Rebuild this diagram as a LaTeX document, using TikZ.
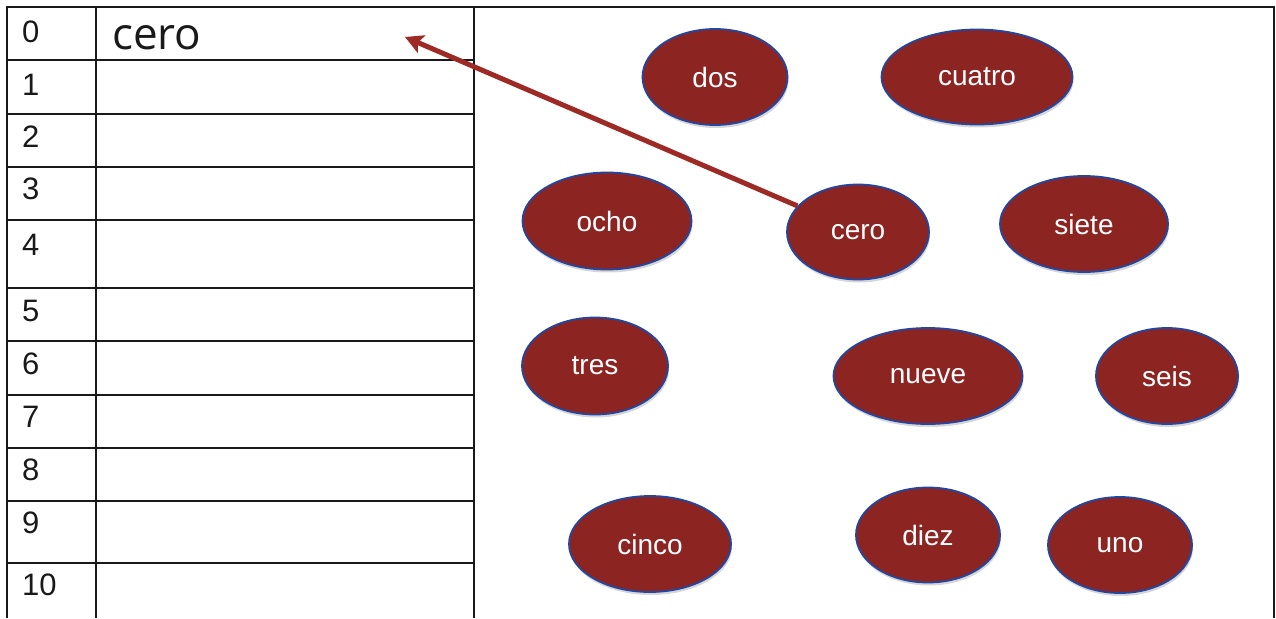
\documentclass[tikz,border=0pt]{standalone}
\usepackage{fontspec}
\setmainfont{Liberation Sans}
\newfontfamily\cellfont{Open Sans}
\usetikzlibrary{arrows.meta,shapes.geometric,shadows}
\definecolor{blobred}{RGB}{140,36,34}
\definecolor{blobedge}{RGB}{35,70,160}
\definecolor{arrowred}{RGB}{158,42,38}
\definecolor{ink}{RGB}{25,25,25}
\begin{document}
\begin{tikzpicture}[x=1pt,y=-1pt,
  rule/.style={line width=1.6pt, draw=ink},
  numlabel/.style={anchor=base west, inner sep=0pt, text=ink, font=\fontsize{31}{34}\selectfont},
  blob/.style={ellipse, fill=blobred, draw=blobedge, line width=1.8pt, text=white,
    inner sep=0pt, font=\fontsize{28}{32}\selectfont,
    drop shadow={shadow xshift=1pt, shadow yshift=-3pt, opacity=0.35, fill=black!45}},
  arrowline/.style={draw=arrowred, line width=5pt, -{Stealth[length=18pt,width=19pt,inset=4pt]}}]
\useasboundingbox (0,0) rectangle (1276,618);
\fill[white] (0,0) rectangle (1276,618);
% outer frame and table
\draw[rule] (7,618) -- (7,7) -- (1274,7) -- (1274,618);
\draw[rule] (474,7) -- (474,618);
\draw[rule] (96,7) -- (96,618);
\foreach \yy in {60,114,167,220,288,341,395,448,501,563}
  \draw[rule] (7,\yy) -- (474,\yy);
% row numbers
\node[numlabel] (n0) at (22,42) {0};
\node[numlabel] (n1) at (22,95) {1};
\node[numlabel] (n2) at (22,147) {2};
\node[numlabel] (n3) at (22,199) {3};
\node[numlabel] (n4) at (22,255) {4};
\node[numlabel] (n5) at (22,321) {5};
\node[numlabel] (n6) at (22,374) {6};
\node[numlabel] (n7) at (22,427) {7};
\node[numlabel] (n8) at (22,480) {8};
\node[numlabel] (n9) at (22,533) {9};
\node[numlabel] (n10) at (22,595) {10};
\node[anchor=base west, inner sep=0pt, text=ink, font=\cellfont\fontsize{44}{47}\selectfont] (cell0) at (112,50) {cero};
% ellipses
\node[blob, minimum width=145pt, minimum height=96pt] (dos) at (715,77) {dos};
\node[blob, minimum width=191pt, minimum height=95pt] (cuatro) at (977,77) {cuatro};
\node[blob, minimum width=169pt, minimum height=97pt] (ocho) at (607,221) {ocho};
\node[blob, minimum width=142pt, minimum height=95pt] (cero) at (858,232) {cero};
\node[blob, minimum width=168pt, minimum height=96pt] (siete) at (1084,224) {siete};
\node[blob, minimum width=146pt, minimum height=97pt] (tres) at (595,366) {tres};
\node[blob, minimum width=189pt, minimum height=96pt] (nueve) at (928,376) {nueve};
\node[blob, minimum width=142pt, minimum height=96pt] (seis) at (1167,376) {seis};
\node[blob, minimum width=162pt, minimum height=96pt] (cinco) at (650,544) {cinco};
\node[blob, minimum width=144pt, minimum height=95pt] (diez) at (928,535) {diez};
\node[blob, minimum width=144pt, minimum height=96pt] (uno) at (1120,545) {uno};
% arrow
\coordinate (tip) at (405,37);
\draw[arrowline] (cero) -- (tip);
\end{tikzpicture}
\end{document}
